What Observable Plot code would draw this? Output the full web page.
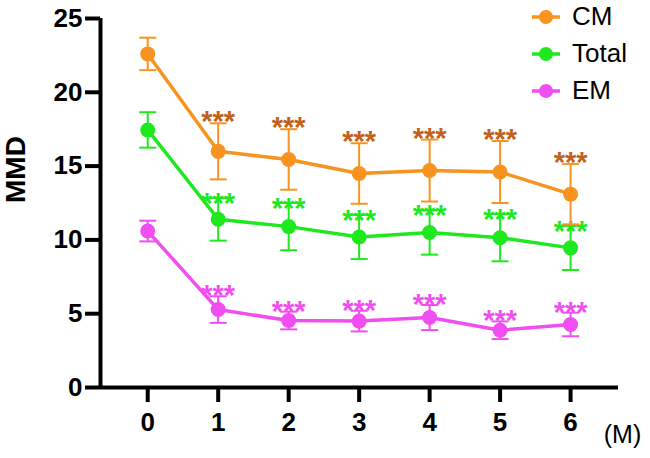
<!DOCTYPE html>
<html>
<head>
<meta charset="utf-8">
<script src="https://cdn.jsdelivr.net/npm/d3@7"></script>
<script src="https://cdn.jsdelivr.net/npm/@observablehq/plot@0.6"></script>
<style>
  body { margin: 0; background: #fff; }
  #wrap { position: relative; width: 650px; height: 458px; font-family: "Liberation Sans", Arial, sans-serif; }
  #legend { position: absolute; left: 530px; top: -2px; }
  .row { display: flex; align-items: center; height: 37px; font-size: 26px; color: #000; }
  .row svg { margin-right: 10px; }
  #wrap > svg { position: absolute; left: 0; top: 0; }
  #wrap > svg g[aria-label="y-axis tick label"] text,
  #wrap > svg g[aria-label="x-axis tick label"] text { font-weight: bold; font-size: 26px; }
</style>
</head>
<body>
<div id="wrap"></div>
<script>
// ---- data ----
const months = [0, 1, 2, 3, 4, 5, 6];
const seriesNames = ["CM", "Total", "EM"];
const cmMean = [22.6, 16.0, 15.45, 14.5, 14.7, 14.6, 13.1];
const cmSD = [1.1, 1.9, 2.05, 2.05, 2.1, 2.1, 2.05];
const totalMean = [17.45, 11.4, 10.9, 10.2, 10.5, 10.15, 9.46];
const totalSD = [1.2, 1.45, 1.6, 1.5, 1.5, 1.6, 1.5];
const emMean = [10.6, 5.28, 4.54, 4.5, 4.74, 3.88, 4.27];
const emSD = [0.7, 0.9, 0.6, 0.7, 0.85, 0.6, 0.8];
const starLabel = "***";
const yTicks = [0, 5, 10, 15, 20, 25];
const xDomain = [-0.67, 6.68];
const yDomain = [0, 25];

const lineColors = { CM: "#F7931E", Total: "#1EE81E", EM: "#F04EF0" };
const starColors = { CM: "#C2611A", Total: "#1EE81E", EM: "#F04EF0" };
const starDy = { CM: 8, Total: 15, EM: 9 };

const means = { CM: cmMean, Total: totalMean, EM: emMean };
const sds = { CM: cmSD, Total: totalSD, EM: emSD };

const capSymbol = {
  draw(ctx, size) {
    const r = Math.sqrt(size / Math.PI);
    ctx.moveTo(-r, 0);
    ctx.lineTo(r, 0);
  }
};

const marks = [];
for (const s of ["EM", "Total", "CM"]) {
  const rows = months.map((m, i) => ({ month: m, mean: means[s][i], lo: means[s][i] - sds[s][i], hi: means[s][i] + sds[s][i] }));
  const c = lineColors[s];
  marks.push(
    Plot.ruleX(rows, { x: "month", y1: "lo", y2: "hi", stroke: c, strokeWidth: 2 }),
    Plot.dot(rows, { x: "month", y: "hi", symbol: capSymbol, r: 8.5, stroke: c, strokeWidth: 2, fill: "none" }),
    Plot.dot(rows, { x: "month", y: "lo", symbol: capSymbol, r: 8.5, stroke: c, strokeWidth: 2, fill: "none" }),
    Plot.line(rows, { x: "month", y: "mean", stroke: c, strokeWidth: 3.5 }),
    Plot.dot(rows, { x: "month", y: "mean", r: 7.5, fill: c, stroke: "none" }),
    Plot.text(rows.filter(d => d.month > 0), { x: "month", y: "hi", text: () => starLabel, fill: starColors[s], fontSize: 29, fontWeight: "bold", lineAnchor: "bottom", dy: starDy[s] })
  );
}

const chart = Plot.plot({
  width: 650,
  height: 458,
  marginTop: 18,
  marginBottom: 71,
  marginLeft: 100,
  marginRight: 32,
  style: { fontFamily: "'Liberation Sans', Arial, sans-serif", fontSize: "26px", background: "transparent", color: "#000" },
  x: { domain: xDomain },
  y: { domain: yDomain },
  marks: [
    ...marks,
    Plot.ruleX([xDomain[0]], { y1: yDomain[0], y2: yDomain[1], stroke: "#000", strokeWidth: 4 }),
    Plot.ruleY([0], { stroke: "#000", strokeWidth: 4 }),
    Plot.axisY({ ticks: yTicks, tickSize: 15, tickPadding: 3, strokeWidth: 4, fontSize: 26, fontWeight: "bold", label: null, tickFormat: d => String(d) }),
    Plot.axisX({ ticks: months, tickSize: 15, tickPadding: 10, strokeWidth: 4, fontSize: 26, fontWeight: "bold", label: null, tickFormat: d => String(d) }),
    Plot.text(["MMD"], { frameAnchor: "left", rotate: -90, dx: -84, fontSize: 28, fontWeight: "bold", fill: "#000" }),
    Plot.text(["(M)"], { frameAnchor: "bottom-right", textAnchor: "middle", lineAnchor: "middle", dx: 4, dy: 47, fontSize: 25, fill: "#000" })
  ]
});

const wrap = document.getElementById("wrap");
wrap.appendChild(chart);

const legend = document.createElement("div");
legend.id = "legend";
for (const s of seriesNames) {
  const row = document.createElement("div");
  row.className = "row";
  row.innerHTML = `<svg width="32" height="20"><line x1="2" y1="10" x2="30" y2="10" stroke="${lineColors[s]}" stroke-width="3.5"/><circle cx="16" cy="10" r="7" fill="${lineColors[s]}"/></svg><span>${s}</span>`;
  legend.appendChild(row);
}
wrap.appendChild(legend);
</script>
</body>
</html>
